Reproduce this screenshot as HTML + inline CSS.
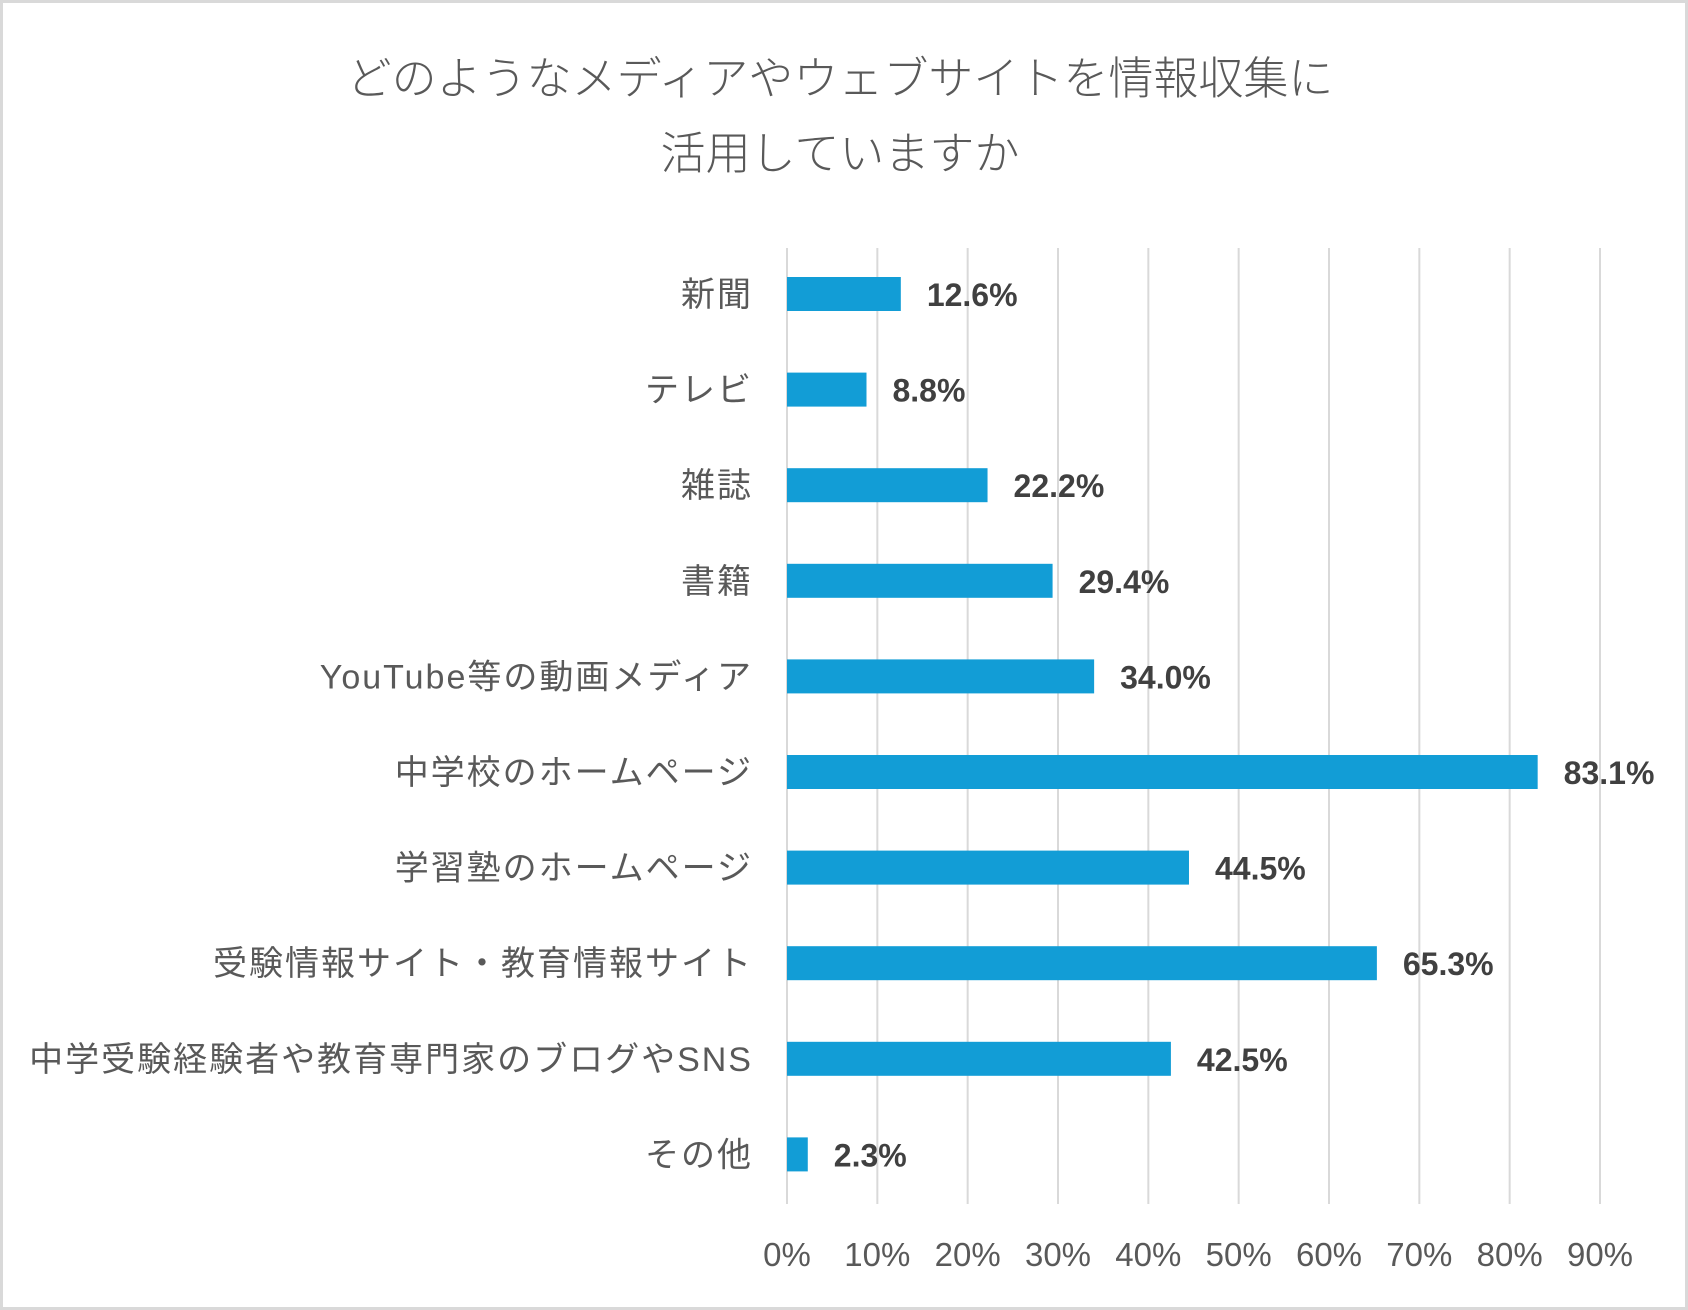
<!DOCTYPE html>
<html><head><meta charset="utf-8"><style>
html,body{margin:0;padding:0;background:#fff}
#wrap{position:relative;width:1688px;height:1310px;box-sizing:border-box;border:3px solid #d9d9d9;background:#fff;overflow:hidden}
svg text{font-family:"Liberation Sans","Noto Sans CJK JP",sans-serif}
</style></head><body>
<div id="wrap">
<svg id="chart" width="1682" height="1304" viewBox="3 3 1682 1304">
<text x="840" y="94" font-size="45" font-weight="300" fill="#595959" text-anchor="middle">どのようなメディアやウェブサイトを情報収集に</text>
<text x="840" y="169" font-size="45" font-weight="300" fill="#595959" text-anchor="middle">活用していますか</text>
<g id="grid"></g><g id="bars"></g>
</svg>
</div>
<script>
const categories=["新聞","テレビ","雑誌","書籍","YouTube等の動画メディア","中学校のホームページ","学習塾のホームページ","受験情報サイト・教育情報サイト","中学受験経験者や教育専門家のブログやSNS","その他"];
const values=[12.6,8.8,22.2,29.4,34.0,83.1,44.5,65.3,42.5,2.3];
const ticks=[0,10,20,30,40,50,60,70,80,90];
const NS="http://www.w3.org/2000/svg";
const X0=787,X90=1600,GTOP=248,GBOT=1204,ROW0=294,ROWSTEP=95.6,BARH=34;
function xs(v){return X0+(X90-X0)*v/90;}
function ys(i){return ROW0+ROWSTEP*i;}
function mk(t,a){const e=document.createElementNS(NS,t);for(const k in a)e.setAttribute(k,a[k]);return e;}
const grid=document.getElementById('grid'),bars=document.getElementById('bars');
ticks.forEach(t=>{
 const l=mk('line',{x1:xs(t),x2:xs(t),y1:GTOP,y2:GBOT,stroke:'#d9d9d9','stroke-width':2});
 
 
 grid.appendChild(l);
 const tx=mk('text',{x:xs(t),y:1266,'font-size':33,fill:'#595959','text-anchor':'middle'});
 tx.textContent=t+'%';
 
 
 grid.appendChild(tx);
});
categories.forEach((c,i)=>{
 const y=ys(i),v=values[i];
 const lb=mk('text',{x:753,y:y+12,'font-size':34,'letter-spacing':2,fill:'#595959','text-anchor':'end'});
 lb.textContent=c;
 
 
 bars.appendChild(lb);
 const r=mk('rect',{x:xs(0),y:y-BARH/2,width:xs(v)-xs(0),height:BARH,fill:'#129dd6'});
 
 
 bars.appendChild(r);
 const vl=mk('text',{x:xs(v)+26,y:y+12,'font-size':32,'font-weight':'bold',fill:'#404040'});
 vl.textContent=v.toFixed(1)+'%';
 
 
 bars.appendChild(vl);
});
</script>
</body></html>
